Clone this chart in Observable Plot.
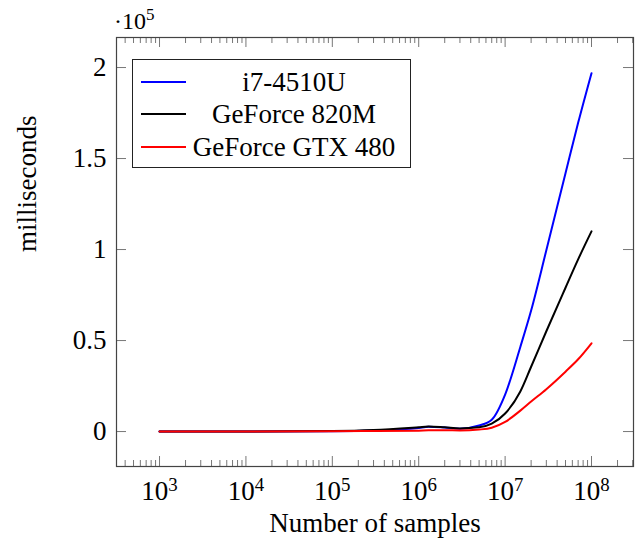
<!DOCTYPE html>
<html><head><meta charset="utf-8">
<script src="https://cdn.jsdelivr.net/npm/d3@7"></script>
<script src="https://cdn.jsdelivr.net/npm/@observablehq/plot@0.6"></script>
<style>
body{margin:0;background:#fff;}
#wrap{position:relative;width:640px;height:545px;font-family:"Liberation Serif","Times New Roman",serif;color:#000;}
#legend{position:absolute;left:132px;top:59px;width:279px;height:109px;border:1px solid #222;background:#fff;box-sizing:border-box;}
.lrow{position:absolute;left:0;height:32px;width:100%;}
.lline{position:absolute;left:8px;top:15px;width:45px;height:2px;}
.ltext{position:absolute;left:54px;width:214px;top:0;height:32px;line-height:32px;text-align:center;font-size:27px;white-space:nowrap;}
#mult{position:absolute;left:114px;top:9px;font-size:24px;line-height:24px;white-space:nowrap;}
#mult sup{font-size:17px;vertical-align:baseline;position:relative;top:-9px;}
</style></head><body><div id="wrap"></div>
<script>
// ---- data ----
const samples = [1e3, 1e4, 1e5, 3e5, 1e6, 1.3e6, 2e6, 3e6, 5e6, 7e6, 1e7, 1.5e7, 2e7, 3e7, 5e7, 7e7, 1e8];
const i7_4510U   = [10, 30, 200, 600, 2000, 2600, 2200, 1600, 3300, 6500, 20300, 46500, 66500, 99600, 141900, 169600, 196900];
const gf820M     = [10, 30, 250, 800, 2400, 2800, 2300, 1700, 2300, 4300, 9900, 22000, 35600, 55100, 79000, 94600, 110000];
const gtx480     = [0, 10, 100, 300, 500, 700, 700, 600, 1100, 2100, 5300, 11500, 16500, 23300, 32900, 39700, 48500];
const seriesNames = ["i7-4510U", "GeForce 820M", "GeForce GTX 480"];
const seriesColors = ["#0000ff", "#000000", "#ff0000"];
const xMajorTicks = [1e3, 1e4, 1e5, 1e6, 1e7, 1e8];
const yTicks = [0, 50000, 100000, 150000, 200000];
const yTickLabels = ["0", "0.5", "1", "1.5", "2"];
const xLabel = "Number of samples";
const yLabel = "milliseconds";

// ---- build ----
const seriesValues = [i7_4510U, gf820M, gtx480];
const rows = [];
seriesNames.forEach((name, s) => samples.forEach((n, i) => rows.push({series: name, n, ms: seriesValues[s][i]})));

const xDomain = [Math.pow(10, 2.502), Math.pow(10, 8.486)];
const yDomain = [-19200, 216500];
const xMinorTicks = [];
for (let k = 2; k <= 8; k++) for (let m = 2; m <= 9; m++) {
  const v = m * Math.pow(10, k);
  if (v >= xDomain[0] && v <= xDomain[1]) xMinorTicks.push(v);
}

const W = 640, H = 545, mL = 116, mR = 7, mT = 37, mB = 79;
const iw = W - mL - mR, ih = H - mT - mB;
const tickColor = "#777";
const FS = 27;

const plot = Plot.plot({
  width: W, height: H,
  marginLeft: mL, marginRight: mR, marginTop: mT, marginBottom: mB,
  style: {fontFamily: "Liberation Serif, Times New Roman, serif", fontSize: FS + "px", background: "white", color: "black", overflow: "visible"},
  x: {type: "log", domain: xDomain},
  y: {domain: yDomain},
  color: {domain: seriesNames, range: seriesColors},
  marks: [
    Plot.axisX(xMajorTicks, {anchor: "bottom", tickSize: 0, tickPadding: 14, fontSize: FS,
      tickFormat: d => "10^" + Math.round(Math.log10(d)), label: null}),
    Plot.axisY(yTicks, {anchor: "left", tickSize: 0, tickPadding: 10, fontSize: FS,
      tickFormat: d => yTickLabels[yTicks.indexOf(d)], label: null}),
    Plot.tickX(xMajorTicks, {x: d => d, insetTop: ih - 10, stroke: tickColor}),
    Plot.tickX(xMajorTicks, {x: d => d, insetBottom: ih - 10, stroke: tickColor}),
    Plot.tickX(xMinorTicks, {x: d => d, insetTop: ih - 6, stroke: tickColor}),
    Plot.tickX(xMinorTicks, {x: d => d, insetBottom: ih - 6, stroke: tickColor}),
    Plot.tickY(yTicks, {y: d => d, insetRight: iw - 10, stroke: tickColor}),
    Plot.tickY(yTicks, {y: d => d, insetLeft: iw - 10, stroke: tickColor}),
    Plot.line(rows, {x: "n", y: "ms", z: "series", stroke: "series", curve: "monotone-x", strokeWidth: 2}),
    Plot.frame({stroke: "#444", strokeWidth: 1.2}),
    Plot.text([xLabel], {frameAnchor: "bottom", dy: 57, fontSize: FS, lineAnchor: "middle"}),
    Plot.text([yLabel], {frameAnchor: "left", dx: -89, rotate: -90, fontSize: FS, lineAnchor: "middle"})
  ]
});

// superscript exponents on log tick labels
d3.select(plot).selectAll('g[aria-label="x-axis tick label"] text').each(function () {
  const parts = this.textContent.split("^");
  if (parts.length === 2) {
    this.textContent = parts[0];
    d3.select(this).append("tspan").attr("dy", "-0.45em").attr("font-size", "0.7em").text(parts[1]);
  }
});

const wrap = document.getElementById("wrap");
wrap.appendChild(plot);

// multiplier label
const mult = document.createElement("div");
mult.id = "mult";
mult.innerHTML = "·10<sup>5</sup>";
wrap.appendChild(mult);

// legend
const legend = document.createElement("div");
legend.id = "legend";
const rowCenters = [21.5, 53.5, 86.5];
seriesNames.forEach((name, i) => {
  const r = document.createElement("div");
  r.className = "lrow";
  r.style.top = (rowCenters[i] - 16) + "px";
  const l = document.createElement("div");
  l.className = "lline"; l.style.background = seriesColors[i];
  const t = document.createElement("div");
  t.className = "ltext"; t.textContent = name;
  r.appendChild(l); r.appendChild(t);
  legend.appendChild(r);
});
wrap.appendChild(legend);
</script>
</body></html>
